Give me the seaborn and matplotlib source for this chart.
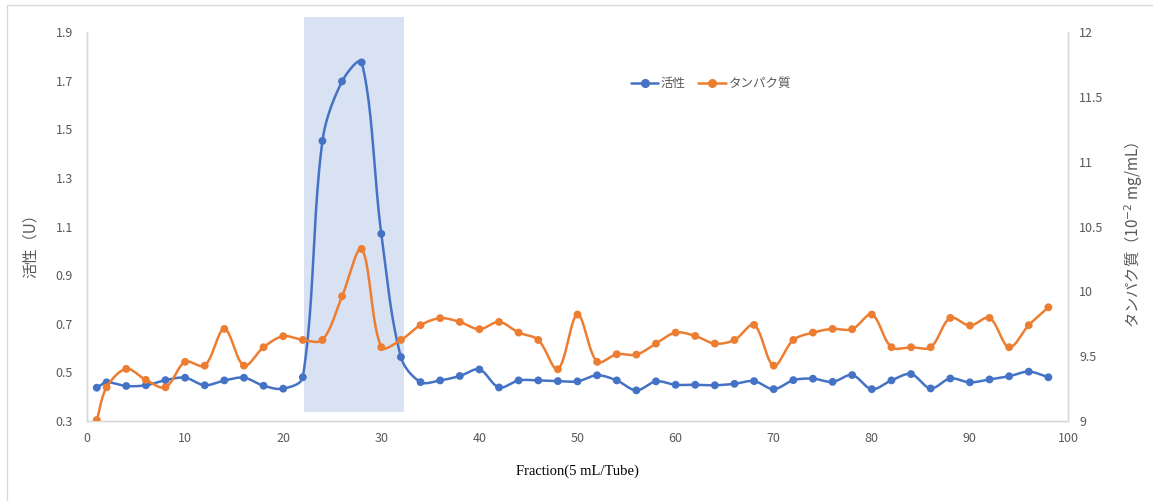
import numpy as np
import pandas as pd
import matplotlib
matplotlib.use("Agg")
import matplotlib.pyplot as plt
from matplotlib.patches import Rectangle
from matplotlib.lines import Line2D
import seaborn as sns

# Fraction numbers (5 mL per tube)
fractions = [1, 2, 4, 6, 8, 10, 12, 14, 16, 18, 20,
             22, 24, 26, 28, 30, 32, 34, 36, 38, 40,
             42, 44, 46, 48, 50, 52, 54, 56, 58, 60,
             62, 64, 66, 68, 70, 72, 74, 76, 78, 80,
             82, 84, 86, 88, 90, 92, 94, 96, 98]

# Enzyme activity (U)
activity = [0.437, 0.459, 0.444, 0.447, 0.468, 0.478, 0.447, 0.467, 0.478, 0.445, 0.433,
            0.480, 1.452, 1.697, 1.775, 1.070, 0.563, 0.460, 0.467, 0.485, 0.512,
            0.438, 0.467, 0.467, 0.464, 0.463, 0.488, 0.467, 0.426, 0.463, 0.449,
            0.449, 0.447, 0.453, 0.464, 0.431, 0.468, 0.474, 0.461, 0.489, 0.431,
            0.467, 0.493, 0.434, 0.475, 0.459, 0.471, 0.484, 0.503, 0.480]

# Protein concentration (10^-2 mg/mL)
protein = [9.008, 9.260, 9.402, 9.317, 9.260, 9.456, 9.427, 9.710, 9.427, 9.569, 9.654,
           9.625, 9.625, 9.962, 10.327, 9.569, 9.625, 9.739, 9.793, 9.764, 9.708,
           9.764, 9.682, 9.625, 9.399, 9.821, 9.456, 9.515, 9.512, 9.597, 9.682,
           9.656, 9.597, 9.625, 9.741, 9.427, 9.625, 9.682, 9.710, 9.708, 9.821,
           9.569, 9.569, 9.569, 9.795, 9.736, 9.795, 9.569, 9.739, 9.877]

series_names = ["活性", "タンパク質"]
active_pool = (22.1, 32.3)  # pooled active fractions

BLUE = "#4472C4"
ORANGE = "#ED7D31"
GREY = "#595959"
AXIS = "#D9D9D9"


def smooth(axis, xs, ys, n=24):
    """Bezier curve through every point, built in display space with
    chord-length scaled tangents (no overshoot on short segments)."""
    pts = axis.transData.transform(np.column_stack([xs, ys]))
    P = np.vstack([pts[:1], pts, pts[-1:]])
    seg = np.linalg.norm(np.diff(P, axis=0), axis=1)
    t = np.linspace(0, 1, n)[:, None]
    out = []
    for i in range(1, len(P) - 2):
        p0, p3 = P[i], P[i + 1]
        d_prev, d_cur, d_next = seg[i - 1], seg[i], seg[i + 1]
        k1 = d_cur / (d_prev + d_cur) / 3.0 if d_prev + d_cur > 0 else 0.0
        k2 = d_cur / (d_cur + d_next) / 3.0 if d_cur + d_next > 0 else 0.0
        c1 = p0 + (P[i + 1] - P[i - 1]) * k1
        c2 = p3 - (P[i + 2] - P[i]) * k2
        b = ((1 - t) ** 3) * p0 + 3 * ((1 - t) ** 2) * t * c1 + 3 * (1 - t) * t ** 2 * c2 + t ** 3 * p3
        out.append(b if i == 1 else b[1:])
    curve = axis.transData.inverted().transform(np.vstack(out))
    return curve[:, 0], curve[:, 1]


sns.set_theme(style="white")
plt.rcParams["font.family"] = ["Noto Sans CJK JP", "DejaVu Sans"]
plt.rcParams["mathtext.fontset"] = "dejavusans"
plt.rcParams["axes.unicode_minus"] = False

W, H = 1153, 501
fig = plt.figure(figsize=(W / 100, H / 100), dpi=100)
ax = fig.add_axes([87 / W, 1 - 421 / H, (1068 - 87) / W, (421 - 32) / H])
ax2 = ax.twinx()

ax.set_xlim(0, 100)
ax.set_ylim(0.3, 1.9)
ax2.set_xlim(0, 100)
ax2.set_ylim(9, 12)

df = pd.DataFrame({"fraction": fractions, "activity": activity, "protein": protein})

# highlighted fractions band (extends slightly past the plot frame)
ax.add_patch(Rectangle((active_pool[0], 0.339), active_pool[1] - active_pool[0], 1.962 - 0.339,
                       facecolor="#D9E2F3", edgecolor="none", zorder=0, clip_on=False))

sx, sy = smooth(ax, df["fraction"], df["activity"])
sns.lineplot(x=sx, y=sy, ax=ax, color=BLUE, linewidth=1.8, sort=False, estimator=None, zorder=3)
sns.scatterplot(data=df, x="fraction", y="activity", ax=ax, color=BLUE, s=32,
                edgecolor="none", zorder=4)

sx2, sy2 = smooth(ax2, df["fraction"], df["protein"])
sns.lineplot(x=sx2, y=sy2, ax=ax2, color=ORANGE, linewidth=1.8, sort=False, estimator=None, zorder=3)
sns.scatterplot(data=df, x="fraction", y="protein", ax=ax2, color=ORANGE, s=32,
                edgecolor="none", zorder=4)

ax.set_xlim(0, 100)
ax.set_ylim(0.3, 1.9)
ax2.set_ylim(9, 12)
ax.set_xticks(np.arange(0, 101, 10))
ax.set_yticks(np.round(np.arange(0.3, 1.91, 0.2), 1))
ax2.set_yticks(np.arange(9, 12.01, 0.5))
ax.set_yticklabels([f"{v:g}" for v in ax.get_yticks()])
ax2.set_yticklabels([f"{v:g}" for v in ax2.get_yticks()])

for a in (ax, ax2):
    a.grid(False)
    a.set_facecolor("none")
    a.spines["top"].set_visible(False)
    for side in ("left", "right", "bottom"):
        a.spines[side].set_color(AXIS)
        a.spines[side].set_linewidth(1.0)
ax.tick_params(axis="both", length=0, labelsize=9, labelcolor=GREY)
ax.tick_params(axis="y", pad=10)
ax.tick_params(axis="x", pad=8)
ax2.tick_params(axis="y", length=0, labelsize=9, labelcolor=GREY, pad=8)

ax.set_xlabel("Fraction(5 mL/Tube)", family="Liberation Serif", fontsize=10.5,
              color="black", labelpad=14)
ax.set_ylabel("活性（U）", fontsize=11, color=GREY)
ax2.set_ylabel("タンパク質（10$^{-2}$ mg/mL）", fontsize=11, color=GREY)
ax.yaxis.set_label_coords(-48 / (1068 - 87), 0.46)
ax2.yaxis.set_label_coords(1 + 54 / (1068 - 87), 0.478)

handles = [Line2D([], [], color=BLUE, lw=1.8, marker="o", markersize=5.5),
           Line2D([], [], color=ORANGE, lw=1.8, marker="o", markersize=5.5)]
ax2.legend(handles, series_names, loc="upper left", bbox_to_anchor=(0.543, 0.913),
           ncol=2, frameon=False, fontsize=9, handlelength=2.2, columnspacing=1.0,
           handletextpad=0.2, labelcolor=GREY)

# chart area border
fig.patches.append(Rectangle((7 / W, -0.02), 1.2, 1 - 5 / H + 0.02, transform=fig.transFigure,
                             fill=False, edgecolor=AXIS, linewidth=1.0))

fig.savefig("out.png", dpi=100)
